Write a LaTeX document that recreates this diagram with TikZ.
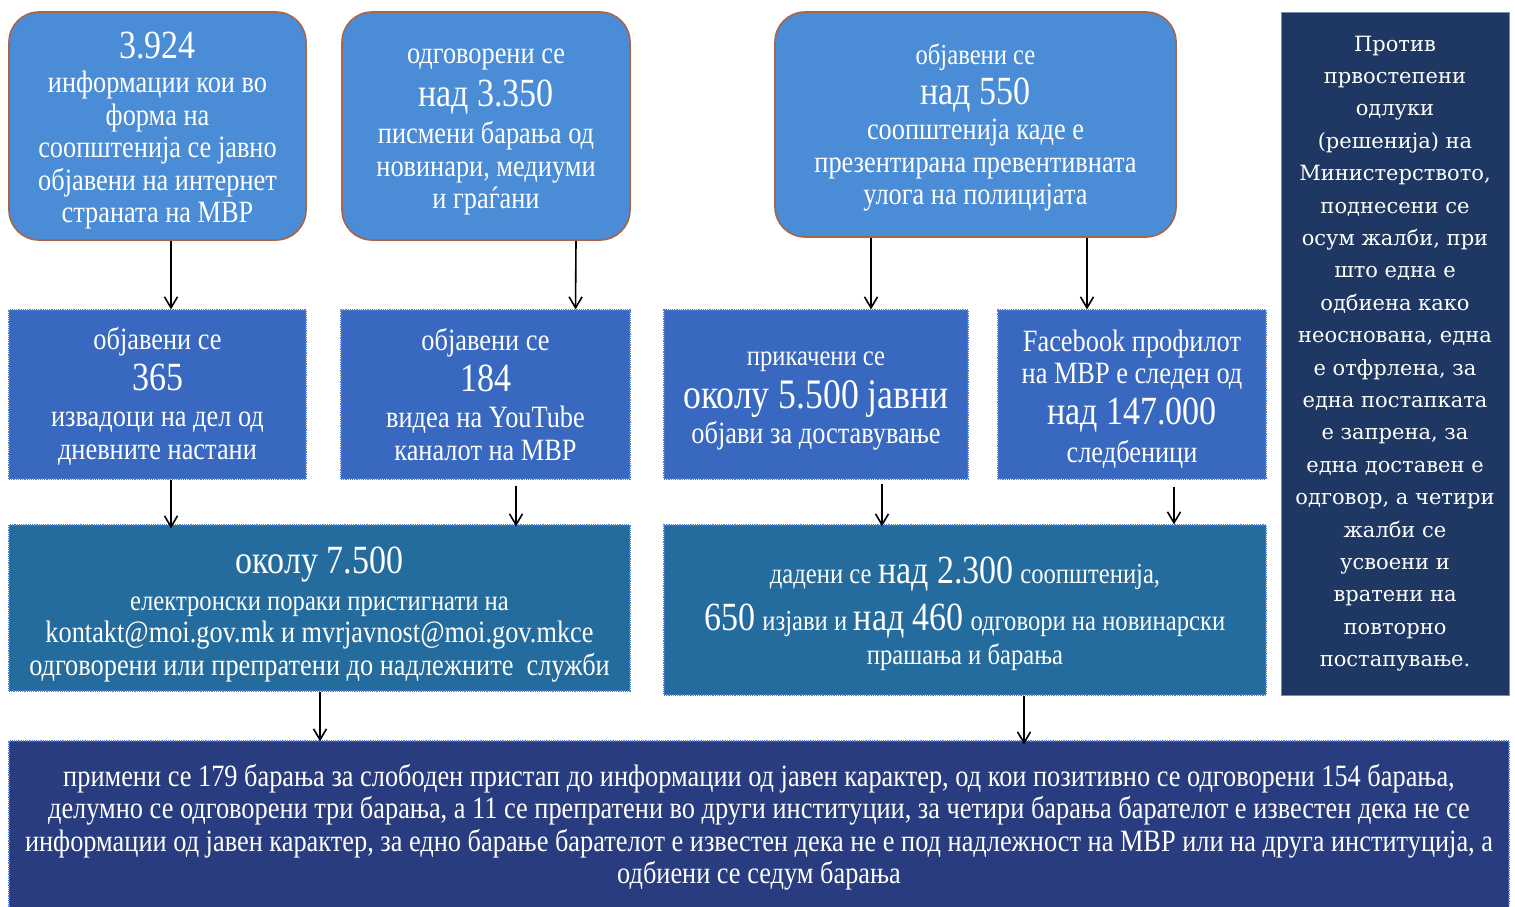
\documentclass[tikz,border=0pt]{standalone}
\usepackage{fontspec}
\setmainfont{Liberation Serif}[FakeStretch=0.85]
\newfontfamily\sidefont{DejaVu Serif}
\usetikzlibrary{arrows.meta, positioning}
\tikzset{>={Straight Barb[length=11pt,width=13pt]}}

\definecolor{topblue}{RGB}{75,140,215}
\definecolor{topedge}{RGB}{170,100,70}
\definecolor{midblue}{RGB}{56,104,192}
\definecolor{lowblue}{RGB}{36,107,158}
\definecolor{dotedge}{RGB}{85,125,215}
\definecolor{sidenavy}{RGB}{31,55,99}
\definecolor{sideedge}{RGB}{120,140,175}
\definecolor{footblue}{RGB}{40,60,127}

\newcommand{\bignum}[1]{{\fontsize{40}{40}\selectfont #1}}
\newcommand{\smalltxt}[1]{{\fontsize{29}{32}\selectfont #1}}

\begin{document}
\begin{tikzpicture}[x=1pt, y=-1pt, thick,
    box/.style={text=white, align=center, inner sep=0pt, font=\fontsize{31}{32.5}\selectfont},
    topbox/.style={box, fill=topblue, draw=topedge, line width=1.6pt, rounded corners=30pt},
    midbox/.style={box, fill=midblue, draw=dotedge, densely dotted, line width=1.2pt},
    lowbox/.style={box, fill=lowblue, draw=dotedge, densely dotted, line width=1.2pt},
    footbox/.style={box, fill=footblue, draw=dotedge, densely dotted, line width=1.2pt},
    arr/.style={->, line width=1.6pt, black}]
    \useasboundingbox (0,0) rectangle (1515,906);

    % top row
    \node[topbox, minimum width=297, minimum height=228] (info) at (157.5,126)
        {\rule{0pt}{36pt}\bignum{3.924}\\[2pt] информации кои во\\ форма на\\ соопштенија се јавно\\ објавени на интернет\\ страната на МВР};
    \node[topbox, minimum width=288, minimum height=228] (answ) at (486,126)
        {\rule{0pt}{27pt}одговорени се\\[8pt] \bignum{над 3.350}\\[5pt] писмени барања од\\ новинари, медиуми\\ и граѓани};
    \node[topbox, minimum width=401, minimum height=225] (news) at (975.5,124.5)
        {\rule{0pt}{27pt}\smalltxt{објавени се}\\[6pt] \bignum{над 550}\\[3pt] соопштенија каде е\\ презентирана превентивната\\ улога на полицијата};

    % right column
    \node[box, fill=sidenavy, draw=sideedge, line width=0.8pt, minimum width=228, minimum height=683,
          font=\sidefont\fontsize{21}{32.4}\selectfont] (appeal) at (1395,353.5)
        {Против\\ првостепени\\ одлуки\\ (решенија) на\\ Министерството,\\ поднесени се\\ осум жалби, при\\ што една е\\ одбиена како\\ неоснована, една\\ е отфрлена, за\\ една постапката\\ е запрена, за\\ една доставен е\\ одговор, а четири\\ жалби се\\ усвоени и\\ вратени на\\ повторно\\ постапување.};

    % middle row
    \node[midbox, minimum width=297, minimum height=169] (clip) at (157.5,394.5)
        {\rule{0pt}{26pt}објавени се\\[6pt] \bignum{365}\\[4pt] извадоци на дел од\\ дневните настани};
    \node[midbox, minimum width=289, minimum height=169] (video) at (485.5,394.5)
        {објавени се\\[6pt] \bignum{184}\\[4pt] видеа на YouTube\\ каналот на МВР};
    \node[midbox, minimum width=304, minimum height=169] (post) at (816,394.5)
        {\rule{0pt}{27pt}\smalltxt{прикачени се}\\[8pt] {\fontsize{42}{42}\selectfont околу 5.500 јавни}\\[2pt] објави за доставување};
    \node[midbox, minimum width=268, minimum height=169] (fb) at (1132,394.5)
        {\rule{0pt}{31pt}Facebook профилот\\ на МВР е следен од\\[7pt] \bignum{над 147.000}\\[6pt] следбеници};

    % lower row
    \node[lowbox, minimum width=621, minimum height=166] (mail) at (319.5,608)
        {\rule{0pt}{40pt}\bignum{околу 7.500}\\[4pt] \smalltxt{електронски пораки пристигнати на}\\ kontakt@moi.gov.mk и mvrjavnost@moi.gov.mkce\\ одговорени или препратени до надлежните\ \ служби};
    \node[lowbox, minimum width=602, minimum height=170] (press) at (965,610)
        {\rule{0pt}{34pt}\smalltxt{дадени се} \bignum{над 2.300} \smalltxt{соопштенија,}\\[12pt] \bignum{650} \smalltxt{изјави и} \bignum{над 460} \smalltxt{одговори на новинарски}\\[2pt] \smalltxt{прашања и барања}};

    % bottom
    \node[footbox, minimum width=1500, minimum height=172] (foi) at (759,827)
        {примени се 179 барања за слободен пристап до информации од јавен карактер, од кои позитивно се одговорени 154 барања,\\
         делумно се одговорени три барања, а 11 се препратени во други институции, за четири барања барателот е известен дека не се\\
         информации од јавен карактер, за едно барање барателот е известен дека не е под надлежност на МВР или на друга институција, а\\
         одбиени се седум барања};

    % arrows
    \draw[arr] ([xshift=13.5]info.south) -- ([xshift=13.5]clip.north);
    \draw[arr] ([xshift=90]answ.south) -- ([xshift=90]video.north);
    \draw[arr] ([xshift=-104.5]news.south) -- ([xshift=55]post.north);
    \draw[arr] ([xshift=111.5]news.south) -- ([xshift=-45]fb.north);
    \draw[arr] ([xshift=13.5]clip.south) -- ([xshift=-148.5,yshift=-4]mail.north);
    \draw[arr] ([xshift=30.5,yshift=-6]video.south) -- ([xshift=196.5,yshift=-2]mail.north);
    \draw[arr] ([xshift=66,yshift=-4]post.south) -- ([xshift=-83,yshift=-2]press.north);
    \draw[arr] ([xshift=42,yshift=-7]fb.south) -- ([xshift=209]press.north);
    \draw[arr] ([xshift=0.5]mail.south) -- ([xshift=-439,yshift=-1]foi.north);
    \draw[arr] ([xshift=59]press.south) -- ([xshift=265,yshift=-4]foi.north);
\end{tikzpicture}
\end{document}
